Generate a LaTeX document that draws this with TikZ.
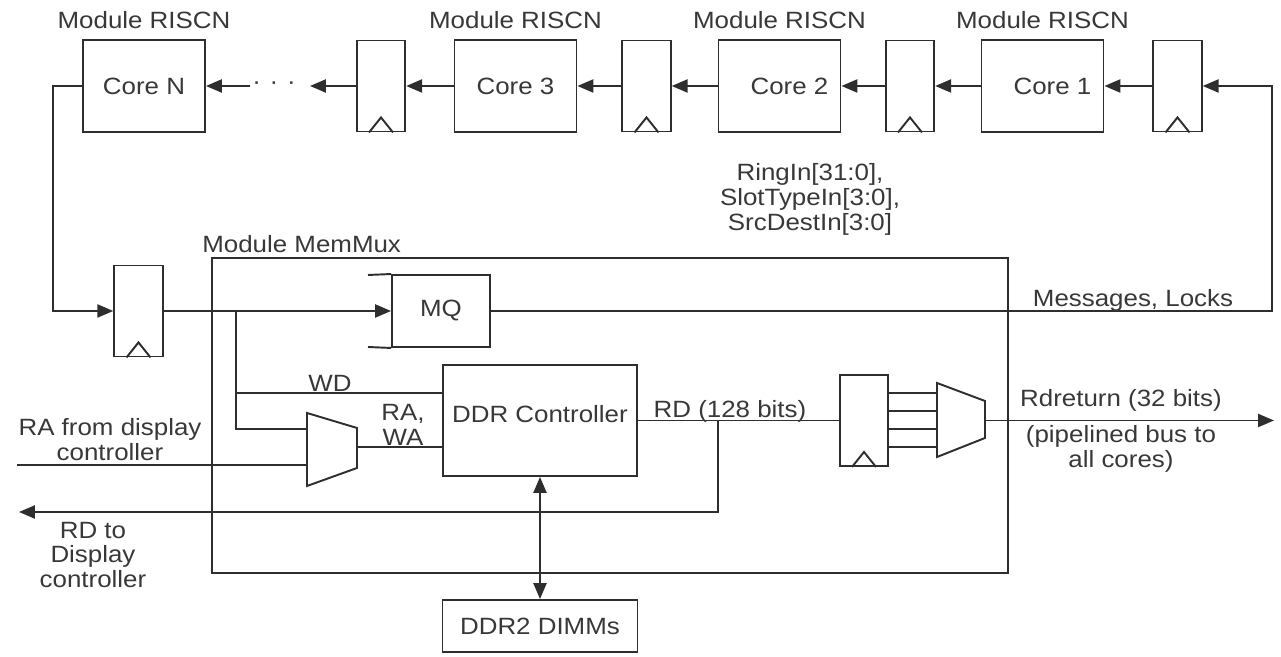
\documentclass[tikz,border=0pt]{standalone}
\usepackage{fontspec}
\setmainfont[FakeStretch=1.1]{Liberation Sans}
\usepackage{tikz}
\usetikzlibrary{arrows.meta}
\pgfdeclarelayer{edgelayer}
\pgfdeclarelayer{nodelayer}
\pgfsetlayers{edgelayer,nodelayer,main}
\definecolor{linegray}{gray}{0.18}
\definecolor{textgray}{gray}{0.22}
\tikzstyle{none}=[inner sep=0pt]
\tikzstyle{txt}=[inner sep=0pt, align=center, text=textgray]
\tikzstyle{core}=[draw=linegray, line width=1.1pt, inner sep=0pt, text=textgray, minimum width=2.44cm, minimum height=1.84cm]
\tikzstyle{register}=[draw=linegray, line width=1.1pt, inner sep=0pt, minimum width=0.97cm, minimum height=1.82cm]
\tikzstyle{block}=[draw=linegray, line width=1.1pt, inner sep=0pt, text=textgray]
\tikzstyle{wire}=[draw=linegray, line width=1.1pt]
\tikzstyle{arrowline}=[wire, -{Triangle[length=9pt,width=7.4pt]}]
\tikzstyle{bothways}=[wire, {Triangle[length=9pt,width=7.4pt]}-{Triangle[length=9pt,width=7.4pt]}]
\begin{document}
\begin{tikzpicture}[font=\fontsize{13.4}{14.2}\selectfont]
	\useasboundingbox (0,0) rectangle (25.62,13.14);
	\begin{pgfonlayer}{nodelayer}
		\node [style=core] (0) at (2.88, 11.42) {Core N};
		\node [style=core] (1) at (10.31, 11.42) {Core 3};
		\node [style=core] (2) at (15.59, 11.42) {\hspace*{0.4cm}Core 2};
		\node [style=core] (3) at (20.85, 11.42) {\hspace*{0.4cm}Core 1};
		\node [style=register] (4) at (7.62, 11.42) {};
		\node [style=register] (5) at (12.93, 11.42) {};
		\node [style=register] (6) at (18.2, 11.42) {};
		\node [style=register] (7) at (23.55, 11.42) {};
		\node [style=txt] (8) at (2.88, 12.74) {Module RISCN};
		\node [style=txt] (9) at (10.31, 12.74) {Module RISCN};
		\node [style=txt] (10) at (15.59, 12.74) {Module RISCN};
		\node [style=txt] (11) at (20.85, 12.74) {Module RISCN};
		\node [style=txt] (12) at (5.48, 11.42) {·\hspace{5pt}·\hspace{5pt}·};
		\node [style=register] (13) at (2.77, 6.92) {};
		\node [style=block, minimum width=15.92cm, minimum height=6.3cm] (14) at (12.2, 4.83) {};
		\node [style=txt, anchor=west] (15) at (4.04, 8.26) {Module MemMux};
		\node [style=block, minimum width=1.96cm, minimum height=1.44cm] (16) at (8.82, 6.92) {MQ};
		\node [style=block, minimum width=3.88cm, minimum height=2.22cm] (17) at (10.8, 4.73) {\raisebox{0.12cm}[\height][\depth]{DDR Controller}};
		\node [style=block, minimum width=3.9cm, minimum height=1.04cm] (18) at (10.8, 0.62) {DDR2 DIMMs};
		\node [style=register] (19) at (17.28, 4.73) {};
		\node [style=txt] (20) at (16.2, 9.16) {RingIn[31:0],\\SlotTypeIn[3:0],\\SrcDestIn[3:0]};
		\node [style=txt] (21) at (22.66, 7.14) {Messages, Locks};
		\node [style=txt] (22) at (6.6, 5.48) {WD};
		\node [style=txt] (23) at (8.06, 4.64) {RA,\\WA};
		\node [style=txt] (24) at (2.2, 4.35) {RA from display\\controller};
		\node [style=txt] (25) at (14.6, 4.92) {RD (128 bits)};
		\node [style=txt] (26) at (1.86, 2.04) {RD to\\Display\\controller};
		\node [style=txt] (27) at (22.42, 5.14) {Rdreturn (32 bits)};
		\node [style=txt] (28) at (22.42, 4.16) {(pipelined bus to\\all cores)};
		\node [style=none] (30) at (1.06, 11.42) {};
		\node [style=none] (31) at (1.06, 6.92) {};
		\node [style=none] (32) at (4.72, 6.92) {};
		\node [style=none] (33) at (4.72, 5.28) {};
		\node [style=none] (34) at (4.72, 4.56) {};
		\node [style=none] (35) at (6.14, 4.56) {};
		\node [style=none] (36) at (0.34, 3.84) {};
		\node [style=none] (37) at (6.14, 3.84) {};
		\node [style=none] (38) at (7.14, 4.2) {};
		\node [style=none] (39) at (25.44, 6.92) {};
		\node [style=none] (40) at (25.44, 11.42) {};
		\node [style=none] (41) at (14.36, 4.73) {};
		\node [style=none] (42) at (14.36, 2.9) {};
		\node [style=none] (43) at (0.38, 2.9) {};
		\node [style=none] (44) at (19.7, 4.73) {};
		\node [style=none] (45) at (25.48, 4.73) {};
		\node [style=none] (46) at (6.14, 4.88) {};
		\node [style=none] (47) at (7.14, 4.58) {};
		\node [style=none] (48) at (7.14, 3.78) {};
		\node [style=none] (49) at (6.14, 3.42) {};
		\node [style=none] (50) at (18.74, 5.48) {};
		\node [style=none] (51) at (19.7, 5.12) {};
		\node [style=none] (52) at (19.7, 4.38) {};
		\node [style=none] (53) at (18.74, 4.0) {};
		\node [style=none] (54) at (17.765, 5.28) {};
		\node [style=none] (55) at (17.765, 4.92) {};
		\node [style=none] (56) at (17.765, 4.56) {};
		\node [style=none] (57) at (17.765, 4.2) {};
		\node [style=none] (58) at (18.74, 5.28) {};
		\node [style=none] (59) at (18.74, 4.92) {};
		\node [style=none] (60) at (18.74, 4.56) {};
		\node [style=none] (61) at (18.74, 4.2) {};
		\node [style=none] (62) at (8.86, 5.28) {};
		\node [style=none] (63) at (8.86, 4.2) {};
		\node [style=none] (64) at (7.36, 7.64) {};
		\node [style=none] (65) at (7.36, 6.2) {};
		\node [style=none] (66) at (6.2, 11.42) {};
		\node [style=none] (67) at (5.0, 11.42) {};
	\end{pgfonlayer}
	\begin{pgfonlayer}{edgelayer}
		% ring of cores
		\draw [style=arrowline] (7.west) to (3.east);
		\draw [style=arrowline] (3.west) to (6.east);
		\draw [style=arrowline] (6.west) to (2.east);
		\draw [style=arrowline] (2.west) to (5.east);
		\draw [style=arrowline] (5.west) to (1.east);
		\draw [style=arrowline] (1.west) to (4.east);
		\draw [style=arrowline] (4.west) to (66.center);
		\draw [style=arrowline] (67.center) to (0.east);
		\draw [style=arrowline] (0.west) to (30.center) to (31.center) to (13.west);
		\draw [style=arrowline] (16.east) to (39.center) to (40.center) to (7.east);
		% clocks
		\draw [style=wire] (4.south) ++(-0.24,0) -- ++(0.24,0.3) -- ++(0.24,-0.3);
		\draw [style=wire] (5.south) ++(-0.24,0) -- ++(0.24,0.3) -- ++(0.24,-0.3);
		\draw [style=wire] (6.south) ++(-0.24,0) -- ++(0.24,0.3) -- ++(0.24,-0.3);
		\draw [style=wire] (7.south) ++(-0.24,0) -- ++(0.24,0.3) -- ++(0.24,-0.3);
		\draw [style=wire] (13.south) ++(-0.24,0) -- ++(0.24,0.3) -- ++(0.24,-0.3);
		\draw [style=wire] (19.south) ++(-0.24,0) -- ++(0.24,0.3) -- ++(0.24,-0.3);
		% memmux
		\draw [style=arrowline] (13.east) to (16.west);
		\draw [style=wire] (64.center) to (16.north west);
		\draw [style=wire] (65.center) to (16.south west);
		\draw [style=wire] (32.center) to (33.center) to (62.center);
		\draw [style=wire] (33.center) to (34.center) to (35.center);
		\draw [style=wire] (36.center) to (37.center);
		\draw [style=wire] (46.center) to (47.center) to (48.center) to (49.center) -- cycle;
		\draw [style=wire] (38.center) to (63.center);
		\draw [style=wire] (17.east) to (19.west);
		\draw [style=arrowline] (41.center) to (42.center) to (43.center);
		\draw [style=wire] (54.center) to (58.center);
		\draw [style=wire] (55.center) to (59.center);
		\draw [style=wire] (56.center) to (60.center);
		\draw [style=wire] (57.center) to (61.center);
		\draw [style=wire] (50.center) to (51.center) to (52.center) to (53.center) -- cycle;
		\draw [style=arrowline] (44.center) to (45.center);
		\draw [style=bothways] (17.south) to (18.north);
	\end{pgfonlayer}
\end{tikzpicture}
\end{document}
